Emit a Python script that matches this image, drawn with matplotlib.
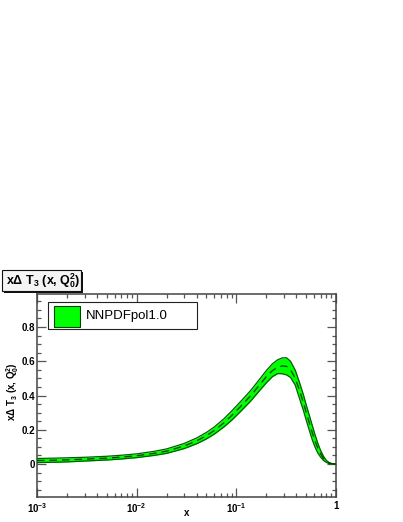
import matplotlib
matplotlib.use("Agg")
import matplotlib.pyplot as plt
from matplotlib.patches import Rectangle
from matplotlib.ticker import FixedLocator, FixedFormatter, MultipleLocator

# ---------------------------------------------------------------------------
# data (x, central value, band edges)
# ---------------------------------------------------------------------------
x_vals = [0.001, 0.0015, 0.002, 0.003, 0.005, 0.007, 0.01, 0.015, 0.02, 0.03,
          0.04, 0.05, 0.06, 0.075, 0.09, 0.11, 0.14, 0.17, 0.2, 0.23,
          0.26, 0.29, 0.32, 0.35, 0.39, 0.43, 0.47, 0.5, 0.54, 0.58,
          0.62, 0.66, 0.7, 0.75, 0.8, 0.85, 0.9, 0.95, 1.0]
central = [0.020, 0.022, 0.024, 0.028, 0.034, 0.040, 0.048, 0.062, 0.075, 0.105,
           0.135, 0.165, 0.195, 0.240, 0.283, 0.335, 0.400, 0.460, 0.510, 0.545,
           0.565, 0.573, 0.570, 0.550, 0.500, 0.430, 0.360, 0.305, 0.240, 0.180,
           0.130, 0.090, 0.060, 0.032, 0.015, 0.006, 0.002, 0.0005, 0.0]
upper = [0.032, 0.034, 0.036, 0.039, 0.045, 0.051, 0.059, 0.074, 0.088, 0.120,
         0.152, 0.184, 0.216, 0.264, 0.310, 0.364, 0.431, 0.493, 0.546, 0.585,
         0.609, 0.620, 0.620, 0.600, 0.548, 0.477, 0.406, 0.350, 0.284, 0.222,
         0.166, 0.118, 0.080, 0.044, 0.021, 0.009, 0.003, 0.0008, 0.0]
lower = [0.008, 0.010, 0.012, 0.017, 0.023, 0.029, 0.037, 0.050, 0.062, 0.090,
         0.118, 0.146, 0.174, 0.216, 0.256, 0.306, 0.369, 0.427, 0.474, 0.510,
         0.528, 0.527, 0.520, 0.505, 0.460, 0.383, 0.314, 0.260, 0.196, 0.138,
         0.094, 0.062, 0.040, 0.020, 0.009, 0.003, 0.001, 0.0002, 0.0]

x_ticks = [1e-3, 1e-2, 1e-1, 1.0]
x_tick_labels = [r"$10^{-3}$", r"$10^{-2}$", r"$10^{-1}$", "1"]
y_ticks = [0.0, 0.2, 0.4, 0.6, 0.8]
y_tick_labels = ["0", "0.2", "0.4", "0.6", "0.8"]

title_text = "x\u0394 T$_{3}$ (x, Q$_{0}^{2}$)"
legend_label = "NNPDFpol1.0"

FILL = "#00ff00"
EDGE = "#006000"

plt.rcParams["font.family"] = ["Liberation Sans", "DejaVu Sans"]
plt.rcParams["mathtext.fontset"] = "custom"
plt.rcParams["mathtext.rm"] = "Liberation Sans:bold"
plt.rcParams["mathtext.it"] = "Liberation Sans:bold"
plt.rcParams["mathtext.bf"] = "Liberation Sans:bold"

W, H = 403, 522
fig = plt.figure(figsize=(W / 100, H / 100), dpi=100)


def fx(px):
    return px / W


def fy(py):
    return 1 - py / H


# axes frame in pixels: left 37, right 336, top 294, bottom 497
ax = fig.add_axes([fx(37), fy(497), fx(336) - fx(37), fy(294) - fy(497)])
ax.set_xscale("log")
ax.set_xlim(1e-3, 1.0)
ax.set_ylim(-0.193, 0.993)

ax.fill_between(x_vals, lower, upper, color=FILL, lw=0, zorder=2)
ax.plot(x_vals, upper, color=EDGE, lw=0.9, zorder=3)
ax.plot(x_vals, lower, color=EDGE, lw=0.9, zorder=3)
ax.plot(x_vals, central, color="#004000", lw=0.9, ls=(0, (6, 4)), zorder=4)

# ticks
ax.xaxis.set_major_locator(FixedLocator(x_ticks))
ax.xaxis.set_major_formatter(FixedFormatter(x_tick_labels))
ax.yaxis.set_major_locator(FixedLocator(y_ticks))
ax.yaxis.set_major_formatter(FixedFormatter(y_tick_labels))
ax.yaxis.set_minor_locator(MultipleLocator(0.05))
ax.tick_params(which="both", direction="in", top=True, right=True,
               color="#555555", width=0.9)
ax.tick_params(which="major", length=6.5)
ax.tick_params(which="minor", length=3.2)
ax.tick_params(axis="x", which="major", pad=3, labelsize=7)
ax.tick_params(axis="y", which="major", pad=1.5, labelsize=7)
for lab in ax.get_yticklabels():
    lab.set_fontweight("bold")
for lab in ax.get_xticklabels():
    lab.set_fontweight("bold")
for sp in ax.spines.values():
    sp.set_color("#444444")
    sp.set_linewidth(1.1)

ax.set_xlabel("x", fontsize=7, fontweight="bold")
ax.xaxis.set_label_coords(0.5, -0.052)
ax.set_ylabel(title_text, fontsize=7, fontweight="bold")
ax.yaxis.set_label_coords(-0.055, 0.52)

# legend box
ax.add_artist(Rectangle((fx(48), fy(329)), fx(197) - fx(48), fy(302) - fy(329),
                        transform=fig.transFigure, facecolor="white",
                        edgecolor="#222222", lw=0.8, zorder=5))
ax.add_artist(Rectangle((fx(54), fy(327)), fx(80) - fx(54), fy(306) - fy(327),
                        transform=fig.transFigure, facecolor=FILL,
                        edgecolor="#004000", lw=0.8, zorder=6))
fig.text(fx(86), fy(316.5), legend_label, fontsize=9.5, va="center", ha="left",
         zorder=7)

# title pave with shadow
fig.patches.append(Rectangle((fx(4), fy(293)), fx(83) - fx(4), fy(272) - fy(293),
                             transform=fig.transFigure, facecolor="#111111",
                             edgecolor="none"))
fig.patches.append(Rectangle((fx(2), fy(291)), fx(81) - fx(2), fy(270) - fy(291),
                             transform=fig.transFigure, facecolor="#f4f4f4",
                             edgecolor="#111111", lw=0.8))
fig.text(fx(6), fy(281), title_text, fontsize=9, fontweight="bold",
         va="center", ha="left")

fig.savefig("out.png", dpi=100)
